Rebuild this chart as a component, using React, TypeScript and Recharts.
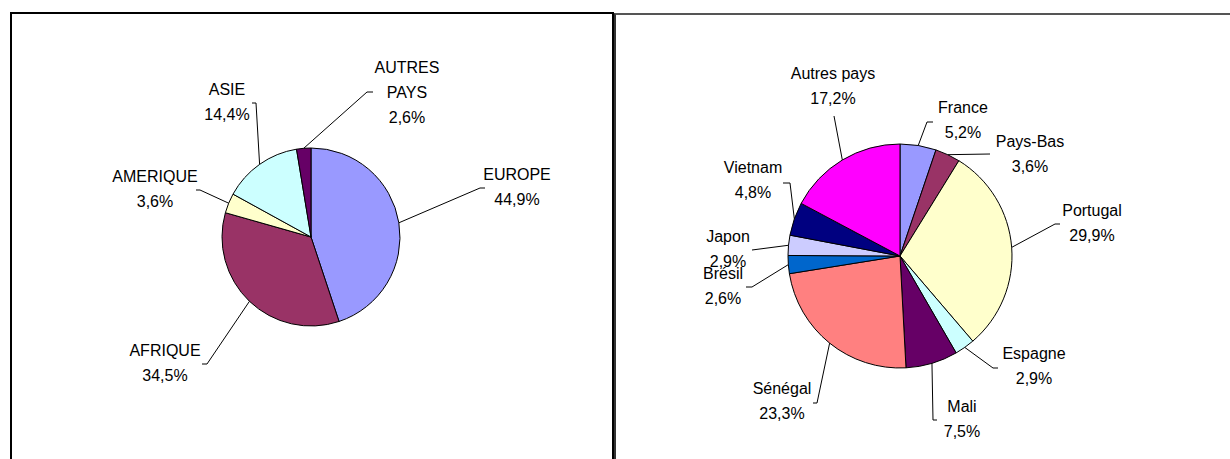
import { PieChart, Pie, Cell } from 'recharts'

// left chart: by continent
const continentNames = ['EUROPE', 'AFRIQUE', 'AMERIQUE', 'ASIE', 'AUTRES\nPAYS']
const continentValues = [44.9, 34.5, 3.6, 14.4, 2.6]
const continentColors = ['#9999FF', '#993366', '#FFFFCC', '#CCFFFF', '#660066']

// right chart: by country
const countryNames = ['France', 'Pays-Bas', 'Portugal', 'Espagne', 'Mali', 'Sénégal', 'Brésil', 'Japon', 'Vietnam', 'Autres pays']
const countryValues = [5.2, 3.6, 29.9, 2.9, 7.5, 23.3, 2.6, 2.9, 4.8, 17.2]
const countryColors = ['#9999FF', '#993366', '#FFFFCC', '#CCFFFF', '#660066', '#FF8080', '#0066CC', '#CCCCFF', '#000080', '#FF00FF']

// manual label placement (like dragged Excel labels): label center, leader end, tick length
type LabelPos = { lx: number; ly: number; ex: number; ey: number; tick: number }

const continentLabelPos: LabelPos[] = [
  { lx: 206, ly: -50, ex: 169, ey: -49, tick: 5 },
  { lx: -146, ly: 126, ex: -104, ey: 127, tick: -5 },
  { lx: -156, ly: -48, ex: -111, ey: -47, tick: -4 },
  { lx: -84, ly: -135, ex: -55, ey: -134, tick: -4 },
  { lx: 96, ly: -145, ex: 56, ey: -145, tick: 6 },
]

const countryLabelPos: LabelPos[] = [
  { lx: 63, ly: -136, ex: 27, ey: -134, tick: 6 },
  { lx: 130, ly: -102, ex: 90, ey: -102, tick: 0 },
  { lx: 192, ly: -33, ex: 155, ey: -32, tick: 5 },
  { lx: 134, ly: 110, ex: 93, ey: 112, tick: 5 },
  { lx: 62, ly: 163, ex: 33, ey: 164, tick: 4 },
  { lx: -118, ly: 145, ex: -83, ey: 147, tick: -4 },
  { lx: -177, ly: 30, ex: -148, ey: 31, tick: -6 },
  { lx: -172, ly: -7, ex: -148, ey: -6, tick: 0 },
  { lx: -147, ly: -76, ex: -110, ey: -73, tick: -7 },
  { lx: -67, ly: -170, ex: -66, ey: -140, tick: 0 },
]

const RAD = Math.PI / 180
const LINE_H = 25
const font = { fontFamily: '"Liberation Sans", Arial, sans-serif', fontSize: 16 }
const noMargin = { top: 0, right: 0, bottom: 0, left: 0 }

const fmt = (v: number) => v.toFixed(1).replace('.', ',') + '%'

function makeLabel(layout: LabelPos[]) {
  return (props: any) => {
    const { cx, cy, midAngle, outerRadius, index, name, value } = props
    const p = layout[index]
    const sx = cx + outerRadius * Math.cos(-midAngle * RAD)
    const sy = cy + outerRadius * Math.sin(-midAngle * RAD)
    const ex = cx + p.ex
    const ey = cy + p.ey
    const lines = [...String(name).split('\n'), fmt(value)]
    const top = cy + p.ly - ((lines.length - 1) * LINE_H) / 2
    return (
      <g>
        <polyline
          points={`${sx},${sy} ${ex},${ey} ${ex + p.tick},${ey}`}
          fill="none"
          stroke="#000"
          strokeWidth={1}
        />
        {lines.map((t, i) => (
          <text
            key={i}
            x={cx + p.lx}
            y={top + i * LINE_H}
            textAnchor="middle"
            dominantBaseline="central"
            fill="#000"
            style={font}
          >
            {t}
          </text>
        ))}
      </g>
    )
  }
}

const continentData = continentNames.map((name, i) => ({ name, value: continentValues[i] }))
const countryData = countryNames.map((name, i) => ({ name, value: countryValues[i] }))

export default function App() {
  return (
    <div style={{ position: 'absolute', left: 0, top: 0, width: 1230, height: 459, overflow: 'hidden', background: '#fff' }}>
      <div
        style={{
          position: 'absolute', left: 10, top: 12, width: 604, height: 470,
          border: '2px solid #000', boxSizing: 'border-box',
        }}
      />
      <div
        style={{
          position: 'absolute', left: 614, top: 13, width: 630, height: 470,
          borderLeft: '2px solid #333', borderTop: '2px solid #555', boxSizing: 'border-box',
        }}
      />
      <div style={{ position: 'absolute', left: 0, top: 0 }}>
        <PieChart width={614} height={459} margin={noMargin}>
          <Pie
            data={continentData}
            dataKey="value"
            nameKey="name"
            cx={311}
            cy={237}
            outerRadius={89}
            startAngle={90}
            endAngle={-270}
            label={makeLabel(continentLabelPos)}
            labelLine={false}
            isAnimationActive={false}
          >
            {continentData.map((d, i) => (
              <Cell key={d.name} fill={continentColors[i]} stroke="#000" strokeWidth={1} />
            ))}
          </Pie>
        </PieChart>
      </div>
      <div style={{ position: 'absolute', left: 615, top: 0 }}>
        <PieChart width={615} height={459} margin={noMargin}>
          <Pie
            data={countryData}
            dataKey="value"
            nameKey="name"
            cx={285}
            cy={256}
            outerRadius={112}
            startAngle={90}
            endAngle={-270}
            label={makeLabel(countryLabelPos)}
            labelLine={false}
            isAnimationActive={false}
          >
            {countryData.map((d, i) => (
              <Cell key={d.name} fill={countryColors[i]} stroke="#000" strokeWidth={1} />
            ))}
          </Pie>
        </PieChart>
      </div>
    </div>
  )
}
